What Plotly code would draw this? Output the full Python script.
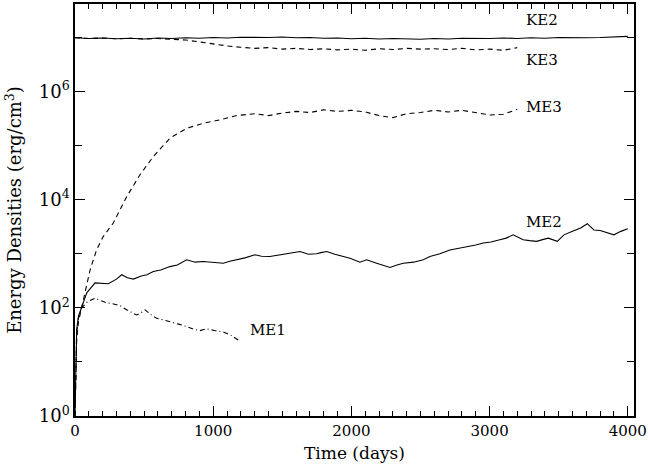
import plotly.graph_objects as go

FONT = "DejaVu Serif"
INK = "black"

# kinetic energy, run 2 (solid)
ke2_t = [0, 100, 200, 300, 400, 500, 600, 700, 800, 900, 1000, 1100, 1200, 1300,
         1400, 1500, 1600, 1700, 1800, 1900, 2000, 2100, 2200, 2300, 2400, 2500,
         2600, 2700, 2800, 2900, 3000, 3100, 3200, 3300, 3400, 3500, 3600, 3700,
         3800, 3900, 4000]
ke2 = [9.9e6, 9.6e6, 9.8e6, 9.5e6, 9.7e6, 9.4e6, 9.8e6, 9.6e6, 9.9e6, 9.7e6,
       1.0e7, 9.8e6, 1.01e7, 9.9e6, 1.0e7, 1.02e7, 9.9e6, 1.0e7, 9.7e6, 9.8e6,
       9.5e6, 9.7e6, 9.4e6, 9.6e6, 9.5e6, 9.3e6, 9.6e6, 9.4e6, 9.7e6, 9.5e6,
       9.6e6, 9.8e6, 9.6e6, 9.9e6, 9.7e6, 1.0e7, 9.8e6, 9.9e6, 1.0e7, 1.02e7, 1.05e7]

# kinetic energy, run 3 (dashed)
ke3_t = [0, 100, 200, 300, 400, 500, 600, 700, 800, 900, 1000, 1100, 1200, 1300,
         1400, 1500, 1600, 1700, 1800, 1900, 2000, 2100, 2200, 2300, 2400, 2500,
         2600, 2700, 2800, 2900, 3000, 3100, 3200]
ke3 = [9.9e6, 9.6e6, 9.8e6, 9.5e6, 9.7e6, 9.4e6, 9.6e6, 9.3e6, 9.0e6, 8.3e6,
       7.6e6, 7.0e6, 6.6e6, 6.3e6, 6.5e6, 6.1e6, 6.3e6, 6.0e6, 6.2e6, 5.9e6,
       6.1e6, 5.8e6, 6.2e6, 6.0e6, 6.3e6, 6.1e6, 6.2e6, 6.0e6, 6.3e6, 5.9e6,
       6.1e6, 5.8e6, 6.5e6]

# magnetic energy, run 3 (dashed)
me3_t = [0, 5, 12, 25, 48, 72, 109, 157, 205, 277, 375, 470, 567, 690, 810, 930,
         1050, 1170, 1300, 1400, 1500, 1600, 1700, 1800, 1900, 2000, 2100, 2200,
         2300, 2400, 2500, 2600, 2700, 2800, 2900, 3000, 3100, 3200]
me3 = [1, 4, 25, 55, 100, 215, 500, 1200, 2100, 3700, 1.15e4, 2.9e4, 6.3e4,
       1.4e5, 2.1e5, 2.6e5, 3.0e5, 3.6e5, 3.9e5, 3.6e5, 4.0e5, 4.3e5, 4.1e5,
       4.6e5, 4.3e5, 4.5e5, 4.2e5, 3.6e5, 3.3e5, 3.9e5, 4.1e5, 4.5e5, 4.2e5,
       4.5e5, 4.1e5, 3.7e5, 3.8e5, 4.7e5]

# magnetic energy, run 2 (solid)
me2_t = [0, 5, 12, 25, 48, 85, 145, 200, 241, 300, 338, 380, 422, 480, 520, 567,
         620, 687, 740, 808, 870, 928, 1000, 1073, 1120, 1170, 1230, 1302, 1350,
         1410, 1470, 1531, 1580, 1628, 1690, 1748, 1780, 1821, 1880, 1942, 1990,
         2062, 2110, 2183, 2230, 2279, 2330, 2376, 2450, 2520, 2568, 2640, 2713,
         2770, 2833, 2900, 2954, 3010, 3074, 3120, 3170, 3210, 3243, 3290, 3340,
         3390, 3425, 3490, 3538, 3600, 3659, 3707, 3755, 3800, 3827, 3870, 3900,
         3950, 4000]
me2 = [1, 8, 39, 70, 100, 190, 290, 285, 280, 340, 410, 360, 340, 390, 410, 470,
       500, 580, 620, 775, 700, 720, 690, 670, 730, 775, 840, 960, 900, 890, 950,
       1000, 1050, 1100, 980, 1000, 1050, 1100, 980, 890, 830, 700, 775, 670, 610,
       560, 620, 670, 700, 775, 890, 1000, 1180, 1250, 1370, 1450, 1580, 1650,
       1820, 1950, 2240, 2000, 1820, 1750, 1700, 1850, 1950, 1700, 2240, 2600,
       3000, 3600, 2760, 2700, 2580, 2400, 2240, 2600, 2900]

# magnetic energy, run 1 (dash-dot)
me1_t = [0, 5, 12, 25, 48, 90, 145, 190, 229, 280, 326, 380, 446, 480, 507, 550,
         591, 640, 687, 750, 808, 860, 905, 953, 1010, 1073, 1130, 1195]
me1 = [1, 6, 35, 65, 100, 130, 150, 135, 124, 118, 110, 90, 74, 82, 92, 75, 64,
       60, 56, 50, 45, 40, 38, 41, 38, 36, 31, 24]

y_major = [1, 1e2, 1e4, 1e6]
y_major_text = ["10<sup>0</sup>", "10<sup>2</sup>", "10<sup>4</sup>", "10<sup>6</sup>"]
y_minor = [10, 1e3, 1e5, 1e7]

fig = go.Figure()
line = dict(color=INK, width=1.1)
fig.add_trace(go.Scatter(x=ke2_t, y=ke2, mode="lines", line=dict(line, dash="solid")))
fig.add_trace(go.Scatter(x=ke3_t, y=ke3, mode="lines", line=dict(line, dash="5px,4px")))
fig.add_trace(go.Scatter(x=me3_t, y=me3, mode="lines", line=dict(line, dash="5px,4px")))
fig.add_trace(go.Scatter(x=me2_t, y=me2, mode="lines", line=dict(line, dash="solid")))
fig.add_trace(go.Scatter(x=me1_t, y=me1, mode="lines", line=dict(line, dash="5px,3px,1px,3px")))

# curve labels
labels = [("KE2", 3250, 7.33), ("KE3", 3250, 6.59), ("ME3", 3250, 5.72),
          ("ME2", 3250, 3.59), ("ME1", 1250, 1.59)]
for txt, lx, ly in labels:
    fig.add_annotation(x=lx, y=ly, text=txt, showarrow=False, xanchor="left",
                       font=dict(family=FONT, size=15, color=INK))

fig.update_layout(
    width=648, height=470,
    plot_bgcolor="white", paper_bgcolor="white",
    showlegend=False,
    margin=dict(l=75, r=14, t=4, b=54),
    font=dict(family=FONT, size=16, color=INK),
)
fig.update_xaxes(
    range=[0, 4045], showgrid=False, zeroline=False, automargin=False,
    showline=True, linecolor=INK, linewidth=1.5, mirror="ticks",
    ticks="inside", ticklen=10, tickwidth=1.2, tickcolor=INK,
    tickvals=[0, 1000, 2000, 3000, 4000], tickfont=dict(size=15),
    ticklabeloverflow="allow",
    minor=dict(dtick=100, ticks="inside", ticklen=5, tickwidth=1, tickcolor=INK),
    title=dict(text="Time (days)", standoff=8, font=dict(size=17)),
)
fig.update_yaxes(
    type="log", range=[0, 7.62], showgrid=False, zeroline=False, automargin=False,
    showline=True, linecolor=INK, linewidth=1.5, mirror="ticks",
    ticks="inside", ticklen=10, tickwidth=1.2, tickcolor=INK,
    tickvals=y_major, ticktext=y_major_text, tickfont=dict(size=18),
    minor=dict(tickmode="array", tickvals=y_minor, ticks="inside", ticklen=7,
               tickwidth=1, tickcolor=INK),
    title=dict(text="Energy Densities (erg/cm<sup>3</sup>)", standoff=12,
               font=dict(size=18)),
)

# page body has an 8px default margin; drop it so the figure sits at 0,0
fig.write_html("out.html", config={"displayModeBar": False},
               post_script="document.body.style.margin='0';")
